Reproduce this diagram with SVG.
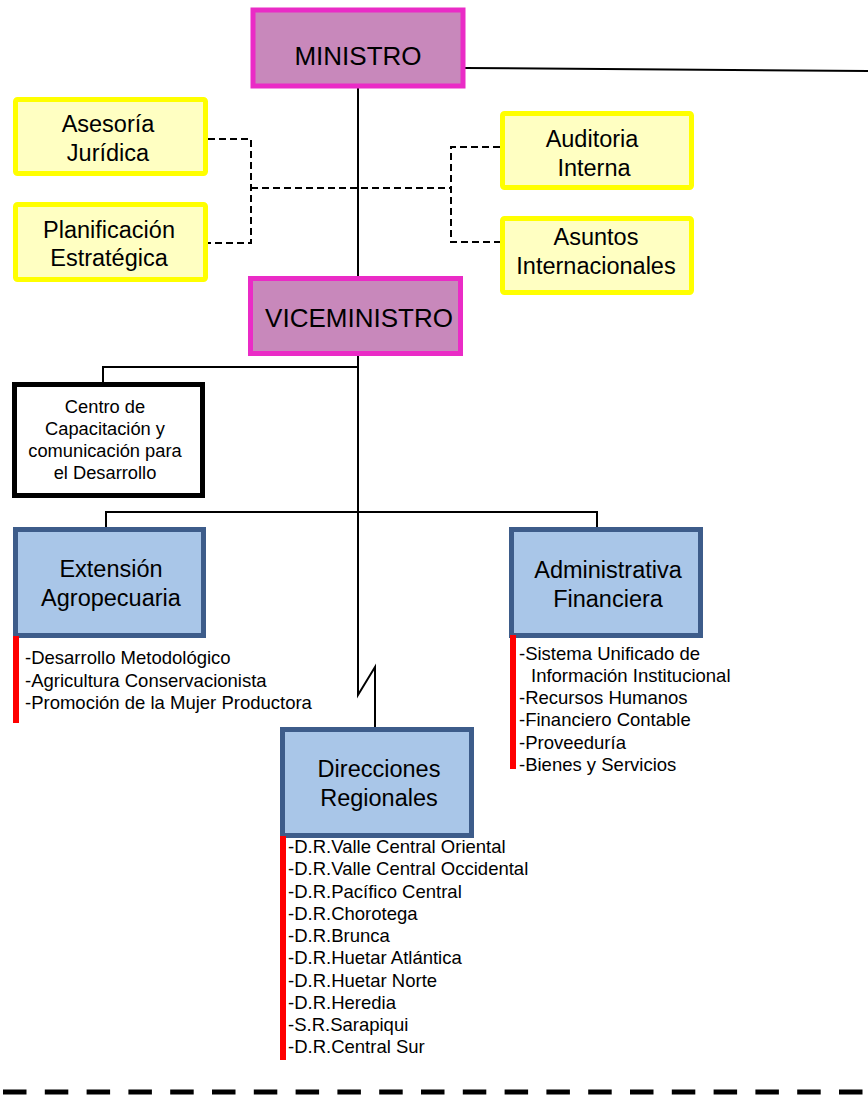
<svg xmlns="http://www.w3.org/2000/svg" width="868" height="1113" viewBox="0 0 868 1113">
<style>
text{font-family:"Liberation Sans",Arial,sans-serif;fill:#000}
.mag{fill:#C888BB;stroke:#EA2BC6;stroke-width:5}
.yel{fill:#FFFFC2;stroke:#FFFF00;stroke-width:5}
.blu{fill:#A9C6E8;stroke:#3D5C8A;stroke-width:5}
.blk{fill:#FFFFFF;stroke:#000;stroke-width:5}
.t26{font-size:26px;text-anchor:middle}
.t23{font-size:23.5px;text-anchor:middle}
.t18{font-size:18.3px;text-anchor:middle}
.li{font-size:18.5px}
.ln{fill:none;stroke:#000;stroke-width:2}
.ds{fill:none;stroke:#000;stroke-width:2;stroke-dasharray:7 4}
.red{fill:#FF0000}
</style>
<g id="connectors">
<line class="ln" x1="465" y1="68" x2="868" y2="71"/>
<line class="ln" x1="358" y1="86" x2="358" y2="276"/>
<polyline class="ds" points="208,139 251,139 251,243 208,243"/>
<line class="ds" x1="251" y1="188" x2="451" y2="188"/>
<polyline class="ds" points="500,147 451,147 451,242 500,242"/>
<polyline class="ln" points="358,355 358,695 375,667 375,727"/>
<polyline class="ln" points="358,367 103,367 103,382"/>
<polyline class="ln" points="106,527 106,512 597,512 597,527"/>
<line x1="3" y1="1092" x2="868" y2="1092" stroke="#000" stroke-width="5" stroke-dasharray="23.5 18.3"/>
</g>
<g id="ministro">
<rect class="mag" x="253" y="10" width="210" height="76"/>
<text class="t26" x="358" y="65">MINISTRO</text>
</g>
<g id="asesoria">
<rect class="yel" x="15.5" y="99.5" width="190" height="74" rx="2"/>
<text class="t23" x="108" y="132">Asesoría</text>
<text class="t23" x="108" y="161">Jurídica</text>
</g>
<g id="planificacion">
<rect class="yel" x="15.5" y="204.5" width="190" height="75" rx="2"/>
<text class="t23" x="109" y="238">Planificación</text>
<text class="t23" x="109" y="266">Estratégica</text>
</g>
<g id="auditoria">
<rect class="yel" x="502.5" y="113.5" width="189" height="74" rx="2"/>
<text class="t23" x="592" y="147">Auditoria</text>
<text class="t23" x="594" y="176">Interna</text>
</g>
<g id="asuntos">
<rect class="yel" x="502.5" y="218.5" width="189" height="74" rx="2"/>
<text class="t23" x="596" y="245">Asuntos</text>
<text class="t23" x="596" y="274">Internacionales</text>
</g>
<g id="viceministro">
<rect class="mag" x="250.5" y="278.5" width="210" height="75"/>
<text class="t26" x="359" y="327">VICEMINISTRO</text>
</g>
<g id="centro">
<rect class="blk" x="14.5" y="384.5" width="188" height="111"/>
<text class="t18" x="105" y="413">Centro de</text>
<text class="t18" x="105" y="435">Capacitación y</text>
<text class="t18" x="105" y="457">comunicación para</text>
<text class="t18" x="105" y="479">el Desarrollo</text>
</g>
<g id="extension">
<rect class="blu" x="15.5" y="529.5" width="188" height="106"/>
<text class="t23" x="111" y="577">Extensión</text>
<text class="t23" x="111" y="606">Agropecuaria</text>
<rect class="red" x="13" y="636" width="6" height="87"/>
<text class="li" x="25" y="664">-Desarrollo Metodológico</text>
<text class="li" x="25" y="687">-Agricultura Conservacionista</text>
<text class="li" x="25" y="709">-Promoción de la Mujer Productora</text>
</g>
<g id="administrativa">
<rect class="blu" x="511.5" y="529.5" width="189" height="106"/>
<text class="t23" x="608" y="578">Administrativa</text>
<text class="t23" x="608" y="607">Financiera</text>
<rect class="red" x="510" y="635" width="6" height="134"/>
<text class="li" x="519" y="660">-Sistema Unificado de</text>
<text class="li" x="531" y="682">Información Institucional</text>
<text class="li" x="519" y="704">-Recursos Humanos</text>
<text class="li" x="519" y="726">-Financiero Contable</text>
<text class="li" x="519" y="749">-Proveeduría</text>
<text class="li" x="519" y="771">-Bienes y Servicios</text>
</g>
<g id="direcciones">
<rect class="blu" x="282.5" y="729.5" width="189" height="106"/>
<text class="t23" x="379" y="777">Direcciones</text>
<text class="t23" x="379" y="806">Regionales</text>
<rect class="red" x="280" y="836" width="6" height="224"/>
<text class="li" x="288" y="853">-D.R.Valle Central Oriental</text>
<text class="li" x="288" y="875">-D.R.Valle Central Occidental</text>
<text class="li" x="288" y="898">-D.R.Pacífico Central</text>
<text class="li" x="288" y="920">-D.R.Chorotega</text>
<text class="li" x="288" y="942">-D.R.Brunca</text>
<text class="li" x="288" y="964">-D.R.Huetar Atlántica</text>
<text class="li" x="288" y="987">-D.R.Huetar Norte</text>
<text class="li" x="288" y="1009">-D.R.Heredia</text>
<text class="li" x="288" y="1031">-S.R.Sarapiqui</text>
<text class="li" x="288" y="1053">-D.R.Central Sur</text>
</g>
</svg>
